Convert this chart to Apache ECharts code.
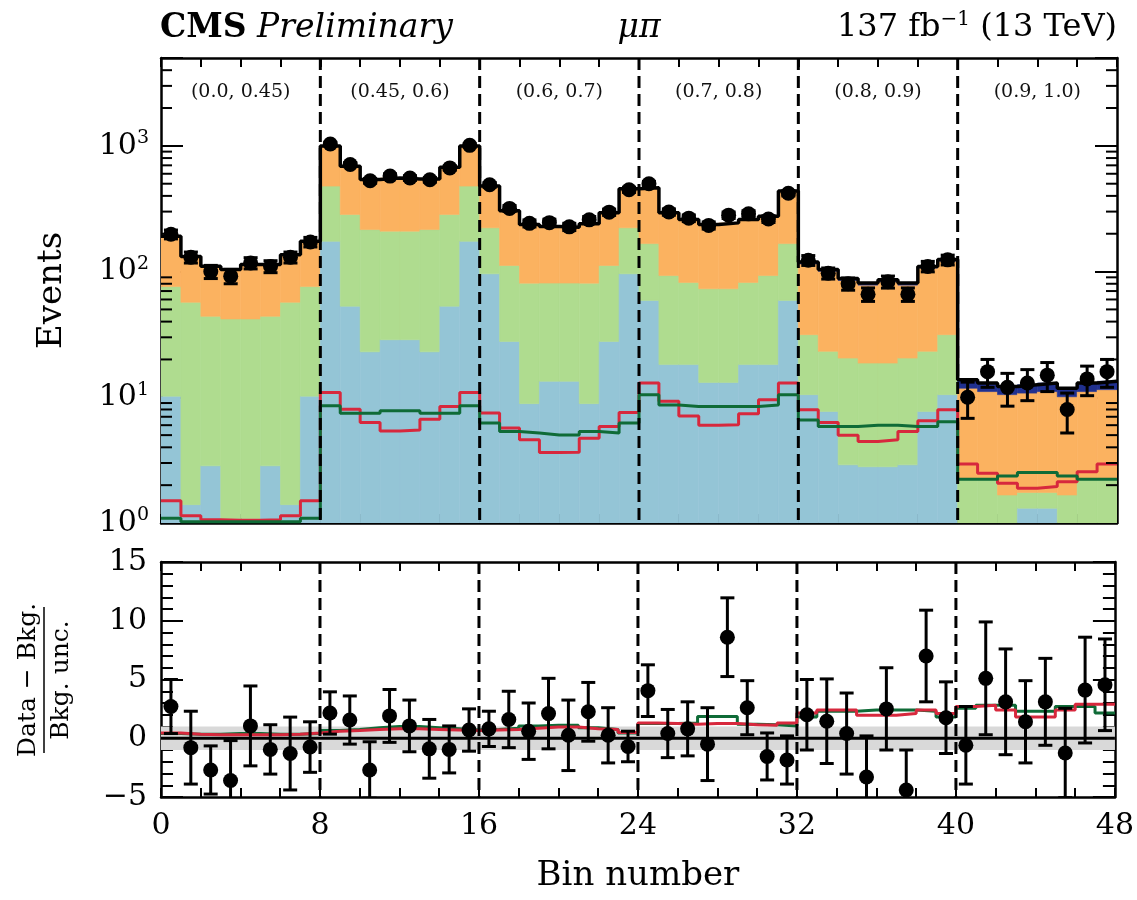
<!DOCTYPE html>
<html>
<head>
<meta charset="utf-8">
<script src="https://cdn.jsdelivr.net/npm/echarts@6/dist/echarts.min.js"></script>
<style>
  html, body { margin: 0; padding: 0; background: #fff; }
  #main { width: 1137px; height: 900px; }
</style>
</head>
<body>
<div id="main"></div>
<script>
// bin labels / region labels
const regionLabels = ['(0.0, 0.45)', '(0.45, 0.6)', '(0.6, 0.7)', '(0.7, 0.8)', '(0.8, 0.9)', '(0.9, 1.0)'];
const regionEdges = [8, 16, 24, 32, 40];
const regionCenters = [4, 12, 20, 28, 36, 44];
const xTickLabels = [0, 8, 16, 24, 32, 40, 48];
const minorLogTicks = [2, 3, 4, 5, 6, 7, 8, 9, 20, 30, 40, 50, 60, 70, 80, 90,
  200, 300, 400, 500, 600, 700, 800, 900, 2000, 3000, 4000];

// background components (stacked, bottom -> top)
const bkgBlue = [
  10.2, 1.4, 2.85, 1.08, 1.08, 2.85, 1.4, 10.2,
  174, 53, 23, 28.7, 28.7, 23, 53, 174,
  96, 27.8, 8.9, 13.4, 13.4, 8.9, 27.8, 96,
  59, 18.2, 18.2, 13.1, 13.1, 18.2, 18.2, 59,
  10.5, 7.7, 2.9, 2.8, 2.8, 2.9, 7.7, 10.5,
  0, 0, 0, 1.31, 1.31, 0, 0, 0
];
const bkgGreen = [
  65.8, 55.6, 41.2, 40.9, 40.9, 41.2, 55.6, 65.8,
  305, 232, 193, 181, 181, 193, 232, 305,
  127, 84, 72, 67.6, 67.6, 72, 84, 127,
  108, 74.8, 63.8, 59.9, 59.9, 63.8, 74.8, 108,
  21, 15.5, 17.6, 15.9, 15.9, 17.6, 15.5, 21,
  2.27, 2.27, 1.67, 0.44, 0.44, 1.67, 2.27, 2.27
];
const bkgOrange = [
  115, 75, 66, 62, 72, 70, 79, 98,
  517, 405, 324, 345, 335, 329, 390, 517,
  256, 193, 156, 147, 144, 159, 182, 232,
  297, 201, 178, 164, 171, 178, 183, 270,
  83.5, 77.3, 64.5, 59.3, 64.3, 57.5, 83.3, 89.5,
  9.53, 8.83, 8.83, 9.05, 9.35, 8.43, 8.83, 9.23
];
const bkgNavy = [
  0, 0, 0, 0, 0, 0, 0, 0,
  0, 0, 0, 0, 0, 0, 0, 0,
  0, 0, 0, 0, 0, 0, 0, 0,
  0, 0, 0, 0, 0, 0, 0, 0,
  4, 3.5, 3, 3, 3, 3, 3.5, 4,
  2.0, 1.9, 1.7, 1.8, 1.9, 1.7, 1.9, 1.9
];

// observed data
const dataCounts = [
  198, 130, 100, 92, 117, 110, 130, 172,
  1035, 710, 528, 575, 555, 538, 668, 1010,
  490, 318, 242, 245, 227, 258, 297, 448,
  500, 298, 266, 233, 281, 288, 262, 420,
  123, 97, 80, 66, 83, 66, 110, 124,
  10, 16, 12, 13, 15, 8, 14, 16
];
const dataErr = [
  16, 13, 12, 12, 12, 12, 13, 15,
  32, 26.6, 23, 24, 23.6, 23.2, 25.8, 31.8,
  22, 17.8, 15.6, 15.7, 15.1, 16.1, 17.2, 21.2,
  22.4, 17.3, 16.3, 15.3, 16.8, 17, 16.2, 20.5,
  11.1, 9.8, 8.9, 8.1, 9.1, 8.1, 10.5, 11.1,
  3.2, 4, 3.5, 3.6, 3.9, 2.8, 3.7, 4
];

// signal hypotheses (top panel)
const sigRed = [
  1.5, 1.14, 1.06, 1.05, 1.05, 1.06, 1.14, 1.5,
  10.9, 8.05, 6.3, 5.4, 5.5, 6.7, 8.45, 10.9,
  7.5, 5.7, 4.6, 3.63, 3.66, 4.73, 5.85, 7.56,
  13, 9.3, 7.1, 6.0, 6.05, 7.4, 9.55, 13,
  7.95, 6.3, 5.0, 4.44, 4.6, 5.34, 6.5, 7.95,
  2.94, 2.49, 2.07, 1.89, 1.95, 2.13, 2.56, 2.94
];
const sigGreen = [
  1.09, 1.024, 1.024, 1.024, 1.024, 1.024, 1.024, 1.09,
  8.55, 7.48, 7.48, 7.8, 7.8, 7.48, 7.48, 8.55,
  6.23, 5.34, 5.2, 5.02, 5.02, 5.34, 5.2, 6.23,
  10.5, 8.7, 8.45, 8.45, 8.45, 8.45, 8.7, 10.5,
  6.6, 5.85, 5.85, 6.0, 6.0, 5.85, 5.85, 6.4,
  2.23, 2.23, 2.37, 2.52, 2.52, 2.37, 2.23, 2.23
];

// pulls (bottom panel)
const pulls = [
  2.7, -0.8, -2.7, -3.6, 1.05, -0.95, -1.3, -0.75,
  2.15, 1.55, -2.7, 1.9, 1.05, -0.9, -0.95, 0.7,
  0.8, 1.6, 0.6, 2.1, 0.25, 2.25, 0.25, -0.7,
  4.05, 0.4, 0.8, -0.5, 8.6, 2.6, -1.55, -1.85,
  2.0, 1.45, 0.4, -3.3, 2.5, -4.4, 7.0, 1.75,
  -0.6, 5.1, 3.1, 1.4, 3.1, -1.25, 4.1, 4.55
];
const pullErr = [
  2.3, 3.1, 2.05, 3.4, 3.4, 2.1, 3.1, 2.15,
  1.8, 2.05, 2.4, 2.25, 2.2, 2.5, 2.0, 1.8,
  1.5, 2.4, 2.4, 3.0, 3.0, 2.5, 2.35, 1.3,
  2.2, 2.05, 2.3, 3.1, 3.35, 2.3, 2.0, 2.05,
  3.0, 3.6, 3.45, 3.5, 3.5, 3.4, 3.9, 3.05,
  3.3, 4.8, 4.5, 3.5, 3.7, 3.8, 4.5, 3.9
];
const pullRed = [
  0.45, 0.35, 0.3, 0.3, 0.3, 0.3, 0.35, 0.45,
  0.6, 0.65, 0.75, 0.8, 0.8, 0.75, 0.7, 0.65,
  0.7, 0.75, 0.85, 0.95, 0.95, 0.8, 0.75, 0.5,
  1.3, 1.25, 1.2, 1.25, 1.25, 1.15, 1.1, 1.3,
  2.15, 2.4, 2.4, 1.95, 1.95, 2.1, 2.4, 2.1,
  2.7, 2.8, 2.4, 1.8, 1.8, 2.4, 2.9, 2.9
];
const pullGreen = [
  0.4, 0.35, 0.35, 0.4, 0.4, 0.35, 0.35, 0.4,
  0.65, 0.75, 0.9, 1.0, 1.0, 0.9, 0.8, 0.7,
  0.75, 0.85, 1.05, 1.1, 1.1, 0.9, 0.75, 0.45,
  1.25, 1.25, 1.3, 1.85, 1.85, 1.2, 1.15, 1.05,
  1.8, 2.3, 2.3, 2.4, 2.4, 2.4, 2.3, 1.8,
  2.55, 2.8, 2.8, 2.3, 2.3, 2.7, 2.7, 2.15
];
const bandLo = -1, bandHi = 1;

const FONT = '"DejaVu Serif", serif';
const stackColors = ['#94c5d6', '#afdc8f', '#fbb260', '#20308f'];
const RED = '#d7283d', DKGREEN = '#0f6b37';

const binIdx = dataCounts.map((_, i) => i);
const totals = binIdx.map(i => bkgBlue[i] + bkgGreen[i] + bkgOrange[i] + bkgNavy[i]);

function stepData(vals) {
  const d = vals.map((v, i) => [i, v]);
  d.push([vals.length, vals[vals.length - 1]]);
  return d;
}

function renderStack(params, api) {
  const i = api.value(0);
  const parts = [api.value(1), api.value(2), api.value(3), api.value(4)];
  let base = 0;
  const children = [];
  parts.forEach((v, k) => {
    const top = base + v;
    if (v > 0 && top > 1) {
      const p0 = api.coord([i, top]);
      const p1 = api.coord([i + 1, Math.max(base, 1)]);
      children.push({
        type: 'rect',
        shape: { x: p0[0], y: p0[1], width: p1[0] - p0[0], height: p1[1] - p0[1] },
        style: { fill: stackColors[k], stroke: stackColors[k], lineWidth: 0.6 }
      });
    }
    base = top;
  });
  return { type: 'group', children };
}

function errGroup(hi, lo) {
  const c = 7;
  const st = { stroke: '#000', lineWidth: 3 };
  return {
    type: 'group', children: [
      { type: 'line', shape: { x1: hi[0], y1: hi[1], x2: lo[0], y2: lo[1] }, style: st },
      { type: 'line', shape: { x1: hi[0] - c, y1: hi[1], x2: hi[0] + c, y2: hi[1] }, style: st },
      { type: 'line', shape: { x1: lo[0] - c, y1: lo[1], x2: lo[0] + c, y2: lo[1] }, style: st }
    ]
  };
}

function renderErr(params, api) {
  const x = api.value(0), y = api.value(1), e = api.value(2);
  return errGroup(api.coord([x, y + e]), api.coord([x, Math.max(y - e, 0.01)]));
}

function renderPullErr(params, api) {
  const x = api.value(0), y = api.value(1), e = api.value(2);
  return errGroup(api.coord([x, y + e]), api.coord([x, y - e]));
}

function renderDashed(params, api) {
  const p = api.coord([api.value(0), 1]);
  const cs = params.coordSys;
  return {
    type: 'line',
    shape: { x1: p[0], y1: cs.y, x2: p[0], y2: cs.y + cs.height },
    style: { stroke: '#000', lineWidth: 3, lineDash: [12, 6] }
  };
}

function renderMinor(params, api) {
  const v = api.value(1);
  const l = api.coord([0, v]);
  const r = api.coord([48, v]);
  const len = 11;
  const st = { stroke: '#000', lineWidth: 2 };
  return {
    type: 'group', children: [
      { type: 'line', shape: { x1: l[0], y1: l[1], x2: l[0] + len, y2: l[1] }, style: st },
      { type: 'line', shape: { x1: r[0], y1: r[1], x2: r[0] - len, y2: r[1] }, style: st }
    ]
  };
}

function xAx(grid, pos, labels) {
  return {
    type: 'value', gridIndex: grid, position: pos, min: 0, max: 48, interval: 2,
    axisLine: { show: true, onZero: false, lineStyle: { color: '#000', width: 2.5 } },
    axisTick: { show: true, inside: true, length: 9, lineStyle: { color: '#000', width: 2 } },
    axisLabel: {
      show: labels, showMinLabel: true, showMaxLabel: true, margin: 14,
      formatter: v => xTickLabels.includes(v) ? String(v) : '',
      fontFamily: FONT, fontSize: 30, color: '#000'
    },
    splitLine: { show: false },
    name: labels ? 'Bin number' : '',
    nameLocation: 'middle', nameGap: 62,
    nameTextStyle: { fontFamily: FONT, fontSize: 34, color: '#000' }
  };
}

function logAx(pos, labels) {
  return {
    type: 'log', logBase: 10, gridIndex: 0, position: pos, min: 1, max: 5000,
    axisLine: { show: true, onZero: false, lineStyle: { color: '#000', width: 2.5 } },
    axisTick: { show: true, inside: true, length: 22, lineStyle: { color: '#000', width: 2 } },
    axisLabel: {
      show: labels, margin: 12,
      formatter: v => {
        const lg = Math.log10(v), p = Math.round(lg);
        return Math.abs(lg - p) < 1e-6 ? '{b|10}{s|' + p + '}' : '';
      },
      rich: {
        b: { fontFamily: FONT, fontSize: 30, color: '#000', lineHeight: 34 },
        s: { fontFamily: FONT, fontSize: 19, color: '#000', lineHeight: 18, verticalAlign: 'top' }
      }
    },
    splitLine: { show: false },
    name: labels ? 'Events' : '',
    nameLocation: 'middle', nameGap: 92,
    nameTextStyle: { fontFamily: FONT, fontSize: 34, color: '#000' }
  };
}

function pullAx(pos, labels) {
  return {
    type: 'value', gridIndex: 1, position: pos, min: -5, max: 15, interval: 5,
    axisLine: { show: true, onZero: false, lineStyle: { color: '#000', width: 2.5 } },
    axisTick: { show: true, inside: true, length: 22, lineStyle: { color: '#000', width: 2 } },
    minorTick: { show: true, splitNumber: 5, length: 12, lineStyle: { color: '#000', width: 2 } },
    axisLabel: {
      show: labels, margin: 14,
      formatter: v => v < 0 ? '\u2212' + (-v) : String(v),
      fontFamily: FONT, fontSize: 30, color: '#000'
    },
    splitLine: { show: false }
  };
}

const chart = echarts.init(document.getElementById('main'), null, { renderer: 'canvas' });

const option = {
  animation: false,
  backgroundColor: '#fff',
  grid: [
    { left: 161, top: 58, width: 956, height: 465 },
    { left: 161, top: 562, width: 956, height: 235 }
  ],
  xAxis: [xAx(0, 'bottom', false), xAx(0, 'top', false), xAx(1, 'bottom', true), xAx(1, 'top', false)],
  yAxis: [logAx('left', true), logAx('right', false), pullAx('left', true), pullAx('right', false)],
  graphic: [
    {
      type: 'text', x: 160, y: 28,
      style: {
        text: '{a|CMS}{b|\u00a0Preliminary}', align: 'left', verticalAlign: 'middle',
        rich: {
          a: { fontFamily: FONT, fontSize: 33, fontWeight: 'bold', fill: '#000' },
          b: { fontFamily: FONT, fontSize: 33, fontStyle: 'italic', fill: '#000' }
        }
      }
    },
    {
      type: 'text', x: 639, y: 28,
      style: { text: 'μπ', fontFamily: FONT, fontSize: 33, fontStyle: 'italic', fill: '#000', align: 'center', verticalAlign: 'middle' }
    },
    {
      type: 'text', x: 1117, y: 28,
      style: {
        text: '137 fb{s|\u22121} (13 TeV)', align: 'right', verticalAlign: 'middle',
        fontFamily: FONT, fontSize: 32, fill: '#000', lineHeight: 36,
        rich: { s: { fontFamily: FONT, fontSize: 20, fill: '#000', lineHeight: 18, verticalAlign: 'top' } }
      }
    },
    {
      type: 'group', x: 44, y: 680, rotation: Math.PI / 2,
      children: [
        { type: 'text', x: 0, y: -16, style: { text: 'Data \u2212 Bkg.', fontFamily: FONT, fontSize: 25, fill: '#000', align: 'center', verticalAlign: 'middle' } },
        { type: 'line', shape: { x1: -73, y1: 0, x2: 73, y2: 0 }, style: { stroke: '#000', lineWidth: 1.5 } },
        { type: 'text', x: 0, y: 17, style: { text: 'Bkg. unc.', fontFamily: FONT, fontSize: 25, fill: '#000', align: 'center', verticalAlign: 'middle' } }
      ]
    }
  ],
  series: [
    // ---- top panel ----
    {
      type: 'custom', xAxisIndex: 0, yAxisIndex: 0, z: 1, clip: true, silent: true,
      encode: { x: 0, y: 5 },
      data: binIdx.map(i => [i, bkgBlue[i], bkgGreen[i], bkgOrange[i], bkgNavy[i], totals[i]]),
      renderItem: renderStack
    },
    {
      type: 'line', xAxisIndex: 0, yAxisIndex: 0, z: 3, step: 'end', showSymbol: false, silent: true,
      data: stepData(sigRed), lineStyle: { color: RED, width: 3 }
    },
    {
      type: 'line', xAxisIndex: 0, yAxisIndex: 0, z: 3, step: 'end', showSymbol: false, silent: true,
      data: stepData(sigGreen), lineStyle: { color: DKGREEN, width: 3 }
    },
    {
      type: 'line', xAxisIndex: 0, yAxisIndex: 0, z: 4, step: 'end', showSymbol: false, silent: true,
      data: stepData(totals), lineStyle: { color: '#000', width: 3.5 }
    },
    {
      type: 'custom', xAxisIndex: 0, yAxisIndex: 0, z: 5, silent: true,
      encode: { x: 0, y: 1 },
      data: minorLogTicks.map(v => [0, v]),
      renderItem: renderMinor
    },
    {
      type: 'custom', xAxisIndex: 0, yAxisIndex: 0, z: 6, silent: true,
      encode: { x: 0 },
      data: regionEdges.map(b => [b, 10]),
      renderItem: renderDashed
    },
    {
      type: 'custom', xAxisIndex: 0, yAxisIndex: 0, z: 7, clip: true, silent: true,
      encode: { x: 0, y: 1 },
      data: binIdx.map(i => [i + 0.5, dataCounts[i], dataErr[i]]),
      renderItem: renderErr
    },
    {
      type: 'scatter', xAxisIndex: 0, yAxisIndex: 0, z: 8, silent: true,
      symbol: 'circle', symbolSize: 15, itemStyle: { color: '#000', opacity: 1 },
      data: binIdx.map(i => [i + 0.5, dataCounts[i]])
    },
    {
      type: 'custom', xAxisIndex: 0, yAxisIndex: 0, z: 9, silent: true,
      encode: { x: 0, y: 1 },
      data: regionCenters.map(c => [c, 2700]),
      renderItem: (params, api) => {
        const p = api.coord([api.value(0), api.value(1)]);
        return {
          type: 'text', x: p[0], y: p[1],
          style: {
            text: regionLabels[params.dataIndex], fontFamily: FONT, fontSize: 19, fill: '#111',
            align: 'center', verticalAlign: 'middle', textAlign: 'center', textVerticalAlign: 'middle'
          }
        };
      }
    },
    // ---- bottom panel ----
    {
      type: 'custom', xAxisIndex: 2, yAxisIndex: 2, z: 1, silent: true,
      encode: { x: 0, y: 1 },
      data: [[0, bandLo, bandHi]],
      renderItem: (params, api) => {
        const a = api.coord([0, api.value(2)]);
        const b = api.coord([48, api.value(1)]);
        const z0 = api.coord([0, 0]);
        const z1 = api.coord([48, 0]);
        return {
          type: 'group', children: [
            { type: 'rect', shape: { x: a[0], y: a[1], width: b[0] - a[0], height: b[1] - a[1] }, style: { fill: '#d9d9d9' } },
            { type: 'line', shape: { x1: z0[0], y1: z0[1], x2: z1[0], y2: z1[1] }, style: { stroke: '#000', lineWidth: 3 } }
          ]
        };
      }
    },
    {
      type: 'line', xAxisIndex: 2, yAxisIndex: 2, z: 3, step: 'end', showSymbol: false, silent: true,
      data: stepData(pullGreen), lineStyle: { color: DKGREEN, width: 3 }
    },
    {
      type: 'line', xAxisIndex: 2, yAxisIndex: 2, z: 3, step: 'end', showSymbol: false, silent: true,
      data: stepData(pullRed), lineStyle: { color: RED, width: 3 }
    },
    {
      type: 'custom', xAxisIndex: 2, yAxisIndex: 2, z: 6, silent: true,
      encode: { x: 0 },
      data: regionEdges.map(b => [b, 0]),
      renderItem: renderDashed
    },
    {
      type: 'custom', xAxisIndex: 2, yAxisIndex: 2, z: 7, clip: true, silent: true,
      encode: { x: 0, y: 1 },
      data: binIdx.map(i => [i + 0.5, pulls[i], pullErr[i]]),
      renderItem: renderPullErr
    },
    {
      type: 'scatter', xAxisIndex: 2, yAxisIndex: 2, z: 8, silent: true, clip: true,
      symbol: 'circle', symbolSize: 15, itemStyle: { color: '#000', opacity: 1 },
      data: binIdx.map(i => [i + 0.5, pulls[i]])
    }
  ]
};

chart.setOption(option);
</script>
</body>
</html>
